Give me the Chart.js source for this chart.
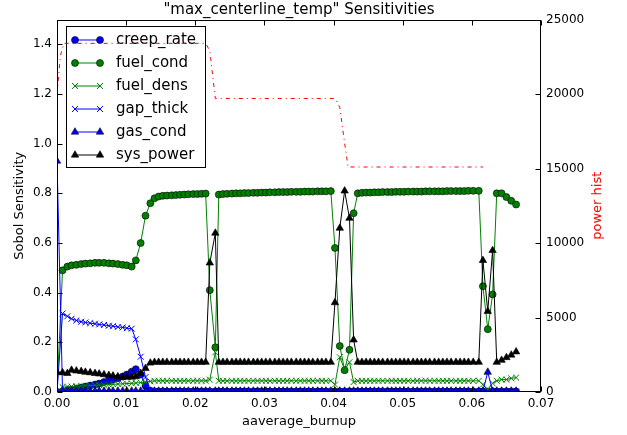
<!DOCTYPE html>
<html>
<head>
<meta charset="utf-8">
<script src="https://cdn.jsdelivr.net/npm/chart.js@4.4.1/dist/chart.umd.min.js"></script>
<style>
  html, body { margin: 0; padding: 0; background: #fff; }
  canvas { display: block; }
</style>
</head>
<body>
<canvas id="sens" width="627" height="435"></canvas>
<script>
// burnup values shared by the six sensitivity series
var burnup = [
  0.0000, 0.0008, 0.0015, 0.0021, 0.0028, 0.0035, 0.0041, 0.0048, 0.0055, 0.0061,
  0.0068, 0.0075, 0.0081, 0.0088, 0.0095, 0.0101, 0.0108, 0.0114, 0.0121, 0.0128,
  0.0135, 0.0141, 0.0147, 0.0153, 0.0159, 0.0166, 0.0172, 0.0178, 0.0184, 0.0190,
  0.0197, 0.0203, 0.0209, 0.0215, 0.0221, 0.0229, 0.0234, 0.0240, 0.0246, 0.0253,
  0.0259, 0.0265, 0.0271, 0.0277, 0.0284, 0.0290, 0.0296, 0.0302, 0.0308, 0.0315,
  0.0321, 0.0327, 0.0333, 0.0339, 0.0346, 0.0352, 0.0358, 0.0364, 0.0370, 0.0377,
  0.0383, 0.0389, 0.0396, 0.0402, 0.0409, 0.0416, 0.0423, 0.0429, 0.0435, 0.0441,
  0.0447, 0.0453, 0.0459, 0.0465, 0.0471, 0.0478, 0.0484, 0.0490, 0.0496, 0.0502,
  0.0508, 0.0515, 0.0521, 0.0527, 0.0533, 0.0539, 0.0546, 0.0552, 0.0558, 0.0564,
  0.0570, 0.0577, 0.0583, 0.0589, 0.0595, 0.0602, 0.0610, 0.0616, 0.0623, 0.0630,
  0.0636, 0.0643, 0.0650, 0.0657, 0.0664
];

var creepRate = [
  0.000, 0.003, 0.006, 0.010, 0.014, 0.018, 0.022, 0.026, 0.030, 0.034,
  0.040, 0.045, 0.050, 0.055, 0.062, 0.070, 0.082, 0.092, 0.070, 0.025,
  0.005, 0.002, 0.002, 0.002, 0.002, 0.002, 0.002, 0.002, 0.002, 0.002,
  0.002, 0.002, 0.002, 0.002, 0.002, 0.002, 0.002, 0.002, 0.002, 0.002,
  0.002, 0.002, 0.002, 0.002, 0.002, 0.002, 0.002, 0.002, 0.002, 0.002,
  0.002, 0.002, 0.002, 0.002, 0.002, 0.002, 0.002, 0.002, 0.002, 0.002,
  0.002, 0.002, 0.002, 0.002, 0.002, 0.002, 0.002, 0.002, 0.002, 0.002,
  0.002, 0.002, 0.002, 0.002, 0.002, 0.002, 0.002, 0.002, 0.002, 0.002,
  0.002, 0.002, 0.002, 0.002, 0.002, 0.002, 0.002, 0.002, 0.002, 0.002,
  0.002, 0.002, 0.002, 0.002, 0.002, 0.002, 0.002, 0.002, 0.002, 0.002,
  0.002, 0.002, 0.002, 0.002, 0.002
];

var fuelCond = [
  0.000, 0.490, 0.505, 0.510, 0.512, 0.515, 0.517, 0.518, 0.520, 0.520,
  0.520, 0.518, 0.517, 0.515, 0.512, 0.510, 0.505, 0.530, 0.600, 0.710,
  0.760, 0.780, 0.787, 0.790, 0.791, 0.792, 0.793, 0.794, 0.795, 0.796,
  0.797, 0.797, 0.798, 0.799, 0.410, 0.180, 0.795, 0.797, 0.798, 0.799,
  0.800, 0.800, 0.801, 0.801, 0.802, 0.802, 0.803, 0.803, 0.804, 0.804,
  0.805, 0.805, 0.805, 0.806, 0.806, 0.806, 0.807, 0.807, 0.807, 0.808,
  0.808, 0.808, 0.809, 0.580, 0.185, 0.088, 0.170, 0.720, 0.800, 0.802,
  0.803, 0.803, 0.804, 0.804, 0.805, 0.805, 0.805, 0.806, 0.806, 0.806,
  0.807, 0.807, 0.807, 0.807, 0.808, 0.808, 0.808, 0.808, 0.808, 0.809,
  0.809, 0.809, 0.809, 0.809, 0.810, 0.810, 0.810, 0.426, 0.253, 0.393,
  0.800, 0.800, 0.785, 0.770, 0.755
];

var fuelDens = [
  0.000, 0.020, 0.021, 0.022, 0.023, 0.024, 0.025, 0.026, 0.027, 0.028,
  0.029, 0.030, 0.031, 0.032, 0.033, 0.034, 0.035, 0.036, 0.038, 0.040,
  0.043, 0.045, 0.045, 0.045, 0.045, 0.045, 0.045, 0.045, 0.045, 0.045,
  0.045, 0.045, 0.045, 0.045, 0.050, 0.160, 0.045, 0.045, 0.045, 0.045,
  0.045, 0.045, 0.045, 0.045, 0.045, 0.045, 0.045, 0.045, 0.045, 0.045,
  0.045, 0.045, 0.045, 0.045, 0.045, 0.045, 0.045, 0.045, 0.045, 0.045,
  0.045, 0.045, 0.045, 0.030, 0.140, 0.090, 0.120, 0.040, 0.045, 0.045,
  0.045, 0.045, 0.045, 0.045, 0.045, 0.045, 0.045, 0.045, 0.045, 0.045,
  0.045, 0.045, 0.045, 0.045, 0.045, 0.045, 0.045, 0.045, 0.045, 0.045,
  0.045, 0.045, 0.045, 0.045, 0.045, 0.045, 0.045, 0.030, 0.010, 0.035,
  0.045, 0.050, 0.050, 0.055, 0.058
];

var gapThick = [
  0.000, 0.316, 0.305, 0.295, 0.288, 0.283, 0.280, 0.277, 0.275, 0.272,
  0.270, 0.267, 0.265, 0.262, 0.260, 0.257, 0.255, 0.212, 0.142, 0.060,
  0.005, 0.002, 0.002, 0.002, 0.002, 0.002, 0.002, 0.002, 0.002, 0.002,
  0.002, 0.002, 0.002, 0.002, 0.002, 0.002, 0.002, 0.002, 0.002, 0.002,
  0.002, 0.002, 0.002, 0.002, 0.002, 0.002, 0.002, 0.002, 0.002, 0.002,
  0.002, 0.002, 0.002, 0.002, 0.002, 0.002, 0.002, 0.002, 0.002, 0.002,
  0.002, 0.002, 0.002, 0.002, 0.002, 0.002, 0.002, 0.002, 0.002, 0.002,
  0.002, 0.002, 0.002, 0.002, 0.002, 0.002, 0.002, 0.002, 0.002, 0.002,
  0.002, 0.002, 0.002, 0.002, 0.002, 0.002, 0.002, 0.002, 0.002, 0.002,
  0.002, 0.002, 0.002, 0.002, 0.002, 0.002, 0.002, 0.002, 0.002, 0.002,
  0.002, 0.002, 0.002, 0.002, 0.002
];

var gasCond = [
  0.930, 0.004, 0.004, 0.004, 0.004, 0.004, 0.004, 0.004, 0.004, 0.004,
  0.004, 0.004, 0.004, 0.004, 0.004, 0.004, 0.004, 0.004, 0.004, 0.004,
  0.004, 0.004, 0.004, 0.004, 0.004, 0.004, 0.004, 0.004, 0.004, 0.004,
  0.004, 0.004, 0.004, 0.004, 0.004, 0.004, 0.004, 0.004, 0.004, 0.004,
  0.004, 0.004, 0.004, 0.004, 0.004, 0.004, 0.004, 0.004, 0.004, 0.004,
  0.004, 0.004, 0.004, 0.004, 0.004, 0.004, 0.004, 0.004, 0.004, 0.004,
  0.004, 0.004, 0.004, 0.004, 0.004, 0.004, 0.004, 0.004, 0.004, 0.004,
  0.004, 0.004, 0.004, 0.004, 0.004, 0.004, 0.004, 0.004, 0.004, 0.004,
  0.004, 0.004, 0.004, 0.004, 0.004, 0.004, 0.004, 0.004, 0.004, 0.004,
  0.004, 0.004, 0.004, 0.004, 0.004, 0.004, 0.004, 0.004, 0.080, 0.004,
  0.004, 0.004, 0.004, 0.004, 0.004
];

var sysPower = [
  0.080, 0.078, 0.075, 0.088, 0.085, 0.083, 0.080, 0.078, 0.075, 0.073,
  0.070, 0.067, 0.065, 0.062, 0.060, 0.060, 0.060, 0.062, 0.075, 0.095,
  0.117, 0.120, 0.120, 0.120, 0.120, 0.120, 0.120, 0.120, 0.120, 0.120,
  0.120, 0.120, 0.120, 0.120, 0.520, 0.640, 0.120, 0.120, 0.120, 0.120,
  0.120, 0.120, 0.120, 0.120, 0.120, 0.120, 0.120, 0.120, 0.120, 0.120,
  0.120, 0.120, 0.120, 0.120, 0.120, 0.120, 0.120, 0.120, 0.120, 0.120,
  0.120, 0.120, 0.120, 0.360, 0.660, 0.810, 0.700, 0.210, 0.120, 0.120,
  0.120, 0.120, 0.120, 0.120, 0.120, 0.120, 0.120, 0.120, 0.120, 0.120,
  0.120, 0.120, 0.120, 0.120, 0.120, 0.120, 0.120, 0.120, 0.120, 0.120,
  0.120, 0.120, 0.120, 0.120, 0.120, 0.120, 0.120, 0.530, 0.325, 0.570,
  0.120, 0.128, 0.139, 0.149, 0.162
];

// power history on the right axis
var powerBurnup = [0.0000, 0.0005, 0.0010, 0.0215, 0.0221, 0.0229, 0.0402, 0.0409, 0.0416, 0.0421, 0.0616];
var powerHist   = [20000, 22600, 23400, 23400, 22900, 19700, 19700, 19100, 16700, 15100, 15100];

var xTicks = [0, 0.01, 0.02, 0.03, 0.04, 0.05, 0.06, 0.07];
var leftTicks = [0, 0.2, 0.4, 0.6, 0.8, 1.0, 1.2, 1.4];
var rightTicks = [0, 5000, 10000, 15000, 20000, 25000];

var FONT = "'DejaVu Sans', sans-serif";
Chart.defaults.font.family = FONT;
Chart.defaults.color = "#000";

var CIRCLE_R = 3.5, TRI_R = 4.3, CROSS_R = 4.2;

var series = [
  { label: "creep_rate", values: creepRate, color: "#0000ff", marker: "circle" },
  { label: "fuel_cond",  values: fuelCond,  color: "#008000", marker: "circle" },
  { label: "fuel_dens",  values: fuelDens,  color: "#008000", marker: "crossRot" },
  { label: "gap_thick",  values: gapThick,  color: "#0000ff", marker: "crossRot" },
  { label: "gas_cond",   values: gasCond,   color: "#0000ff", marker: "triangle" },
  { label: "sys_power",  values: sysPower,  color: "#000000", marker: "triangle" }
];

function points(xs, ys) {
  return xs.map(function (x, i) { return { x: x, y: ys[i] }; });
}

function radiusFor(m) {
  return m === "crossRot" ? CROSS_R : (m === "triangle" ? TRI_R : CIRCLE_R);
}

var datasets = series.map(function (s, i) {
  var cross = s.marker === "crossRot";
  return {
    label: s.label,
    data: points(burnup, s.values),
    borderColor: s.color,
    backgroundColor: s.color,
    borderWidth: 1,
    pointStyle: s.marker,
    pointRadius: radiusFor(s.marker),
    pointBackgroundColor: s.color,
    pointBorderColor: cross ? s.color : "#000",
    pointBorderWidth: cross ? 1 : 0.6,
    yAxisID: "y",
    order: 10 - i // first series at the bottom, like matplotlib
  };
});

datasets.push({
  label: "power hist",
  data: points(powerBurnup, powerHist),
  borderColor: "#ff0000",
  borderWidth: 1,
  borderDash: [4, 4, 1, 4],
  pointRadius: 0,
  yAxisID: "y2",
  order: 1
});

function drawMarker(ctx, s, x, y) {
  var r = radiusFor(s.marker);
  ctx.save();
  ctx.beginPath();
  if (s.marker === "circle") {
    ctx.arc(x, y, r, 0, Math.PI * 2);
    ctx.fillStyle = s.color; ctx.fill();
    ctx.lineWidth = 0.6; ctx.strokeStyle = "#000"; ctx.stroke();
  } else if (s.marker === "triangle") {
    ctx.moveTo(x, y - r);
    ctx.lineTo(x + r * 0.866, y + r * 0.5);
    ctx.lineTo(x - r * 0.866, y + r * 0.5);
    ctx.closePath();
    ctx.fillStyle = s.color; ctx.fill();
    ctx.lineWidth = 0.6; ctx.strokeStyle = "#000"; ctx.stroke();
  } else {
    var d = r * 0.7071;
    ctx.moveTo(x - d, y - d); ctx.lineTo(x + d, y + d);
    ctx.moveTo(x - d, y + d); ctx.lineTo(x + d, y - d);
    ctx.lineWidth = 1; ctx.strokeStyle = s.color; ctx.stroke();
  }
  ctx.restore();
}

function drawLegend(ctx) {
  ctx.save();
  ctx.fillStyle = "#fff";
  ctx.fillRect(66.5, 26.5, 139, 141);
  ctx.strokeStyle = "#000";
  ctx.lineWidth = 1;
  ctx.strokeRect(66.5, 26.5, 139, 141);
  ctx.font = "15px " + FONT;
  ctx.textBaseline = "middle";
  series.forEach(function (s, i) {
    var y = 40 + i * 23;
    ctx.beginPath();
    ctx.moveTo(75, y); ctx.lineTo(100, y);
    ctx.strokeStyle = s.color; ctx.lineWidth = 1; ctx.stroke();
    drawMarker(ctx, s, 75, y);
    drawMarker(ctx, s, 100, y);
    ctx.fillStyle = "#000";
    ctx.fillText(s.label, 116, y);
  });
  ctx.restore();
}

var decorations = {
  id: "decorations",
  beforeDatasetDraw: function (chart, args) {
    // legend sits above the sensitivity lines but below the twin-axis line
    if (args.index === 6) drawLegend(chart.ctx);
  },
  afterDraw: function (chart) {
    var ctx = chart.ctx, a = chart.chartArea;
    var L = Math.round(a.left) + 0.5, R = Math.round(a.right) - 0.5;
    var T = Math.round(a.top) + 0.5, B = Math.round(a.bottom) - 0.5;
    ctx.save();
    ctx.strokeStyle = "#000";
    ctx.lineWidth = 1;
    ctx.strokeRect(L, T, R - L, B - T);
    ctx.beginPath();
    xTicks.forEach(function (v) {
      var x = Math.round(chart.scales.x.getPixelForValue(v)) + 0.5;
      ctx.moveTo(x, B); ctx.lineTo(x, B - 5);
      ctx.moveTo(x, T); ctx.lineTo(x, T + 5);
    });
    leftTicks.forEach(function (v) {
      var y = Math.round(chart.scales.y.getPixelForValue(v)) + 0.5;
      ctx.moveTo(L, y); ctx.lineTo(L + 5, y);
    });
    rightTicks.forEach(function (v) {
      var y = Math.round(chart.scales.y2.getPixelForValue(v)) + 0.5;
      ctx.moveTo(R, y); ctx.lineTo(R - 5, y);
    });
    ctx.stroke();
    // right axis title reads bottom to top, as in matplotlib
    ctx.translate(598, (a.top + a.bottom) / 2);
    ctx.rotate(-Math.PI / 2);
    ctx.font = "13px " + FONT;
    ctx.fillStyle = "#ff0000";
    ctx.textAlign = "center";
    ctx.textBaseline = "middle";
    ctx.fillText("power hist", 0, 0);
    ctx.restore();
  }
};

function fixedTicks(list) {
  return function (scale) {
    scale.ticks = list.map(function (v) { return { value: v }; });
  };
}

var ctx = document.getElementById("sens").getContext("2d");
var chart = new Chart(ctx, {
  type: "line",
  data: { datasets: datasets },
  options: {
    responsive: false,
    animation: false,
    devicePixelRatio: 1,
    layout: { padding: 0 },
    plugins: {
      legend: { display: false },
      tooltip: { enabled: false },
      title: {
        display: true,
        fullSize: false,
        text: '"max_centerline_temp" Sensitivities',
        color: "#000",
        font: { family: FONT, size: 15, weight: "normal" },
        padding: { top: 1.5, bottom: 0 }
      }
    },
    scales: {
      x: {
        type: "linear",
        min: 0,
        max: 0.07,
        afterBuildTicks: fixedTicks(xTicks),
        afterFit: function (s) { s.height = 43; },
        grid: { display: false, drawTicks: false },
        border: { display: false },
        ticks: {
          padding: 5,
          maxRotation: 0,
          font: { size: 12 },
          callback: function (v) { return v.toFixed(2); }
        },
        title: {
          display: true,
          text: "aaverage_burnup",
          font: { size: 13 },
          padding: { top: 0, bottom: 6 }
        }
      },
      y: {
        position: "left",
        min: 0,
        max: 1.5,
        afterBuildTicks: fixedTicks(leftTicks),
        afterFit: function (s) { s.width = 57; },
        grid: { display: false, drawTicks: false },
        border: { display: false },
        ticks: {
          padding: 5,
          font: { size: 12 },
          callback: function (v) { return v.toFixed(1); }
        },
        title: {
          display: true,
          text: "Sobol Sensitivity",
          font: { size: 13 },
          padding: { top: 12, bottom: 0 }
        }
      },
      y2: {
        position: "right",
        min: 0,
        max: 25000,
        afterBuildTicks: fixedTicks(rightTicks),
        afterFit: function (s) { s.width = 86; },
        grid: { display: false, drawTicks: false },
        border: { display: false },
        ticks: {
          padding: 5,
          font: { size: 12 },
          callback: function (v) { return String(v); }
        }
      }
    }
  },
  plugins: [decorations]
});
</script>
</body>
</html>
